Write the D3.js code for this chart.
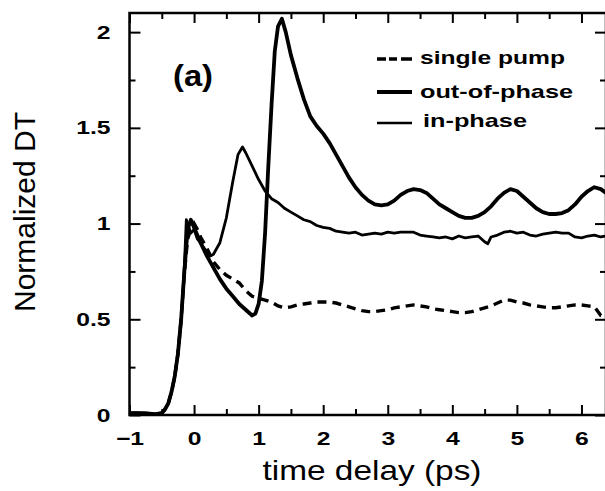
<!DOCTYPE html>
<html>
<head>
<meta charset="utf-8">
<script src="https://cdn.jsdelivr.net/npm/d3@7"></script>
<style>
  body { margin: 0; background: #fff; }
  svg { display: block; }
  text { font-family: "Liberation Sans", Arial, sans-serif; fill: #000; }
</style>
</head>
<body>
<svg id="chart" width="605" height="491"></svg>
<script>
// series as [time delay (ps), normalized DT]
const singlePump = [
  [-1, 0.01], [-0.8, 0.01], [-0.6, 0.005], [-0.5, 0.01], [-0.45, 0.03], [-0.4, 0.06],
  [-0.35, 0.12], [-0.3, 0.2], [-0.25, 0.32], [-0.2, 0.5], [-0.15, 0.74], [-0.1, 0.92],
  [-0.05, 0.97], [0, 1.0], [0.05, 0.97], [0.1, 0.93], [0.2, 0.87], [0.3, 0.8], [0.4, 0.76],
  [0.5, 0.73], [0.6, 0.71], [0.7, 0.69], [0.8, 0.65], [0.9, 0.62], [1.0, 0.61], [1.1, 0.6],
  [1.2, 0.59], [1.3, 0.57], [1.4, 0.56], [1.5, 0.565], [1.6, 0.575], [1.7, 0.58], [1.8, 0.585],
  [1.9, 0.59], [2.0, 0.59], [2.1, 0.59], [2.2, 0.585], [2.3, 0.575], [2.4, 0.565], [2.5, 0.555],
  [2.6, 0.545], [2.7, 0.54], [2.8, 0.54], [2.9, 0.545], [3.0, 0.55], [3.1, 0.56], [3.2, 0.565],
  [3.3, 0.57], [3.4, 0.575], [3.5, 0.57], [3.6, 0.565], [3.7, 0.555], [3.8, 0.55], [3.9, 0.545],
  [4.0, 0.54], [4.1, 0.535], [4.2, 0.535], [4.3, 0.54], [4.4, 0.55], [4.5, 0.56], [4.6, 0.57],
  [4.7, 0.585], [4.8, 0.6], [4.9, 0.6], [5.0, 0.59], [5.1, 0.585], [5.2, 0.575], [5.3, 0.57],
  [5.4, 0.565], [5.5, 0.56], [5.6, 0.56], [5.7, 0.565], [5.8, 0.57], [5.9, 0.575], [6.0, 0.575],
  [6.1, 0.57], [6.2, 0.565], [6.3, 0.52], [6.38, 0.51]
];

const outOfPhase = [
  [-1, 0.01], [-0.8, 0.01], [-0.6, 0.005], [-0.5, 0.01], [-0.45, 0.03], [-0.4, 0.06],
  [-0.35, 0.12], [-0.3, 0.2], [-0.25, 0.32], [-0.2, 0.5], [-0.15, 0.75], [-0.1, 0.97],
  [-0.05, 1.02], [0, 0.98], [0.1, 0.9], [0.2, 0.83], [0.3, 0.77], [0.4, 0.71], [0.5, 0.66],
  [0.6, 0.62], [0.7, 0.58], [0.8, 0.55], [0.9, 0.52], [0.95, 0.53], [1.0, 0.58], [1.05, 0.7],
  [1.1, 0.95], [1.15, 1.3], [1.2, 1.62], [1.25, 1.9], [1.3, 2.03], [1.36, 2.07], [1.42, 2.0],
  [1.5, 1.88], [1.6, 1.76], [1.7, 1.65], [1.8, 1.56], [1.9, 1.51], [2.0, 1.47], [2.1, 1.42],
  [2.2, 1.36], [2.3, 1.3], [2.4, 1.24], [2.5, 1.19], [2.6, 1.15], [2.7, 1.12], [2.8, 1.1],
  [2.9, 1.095], [3.0, 1.1], [3.1, 1.12], [3.2, 1.15], [3.3, 1.17], [3.4, 1.18], [3.5, 1.175],
  [3.6, 1.16], [3.7, 1.13], [3.8, 1.1], [3.9, 1.08], [4.0, 1.06], [4.1, 1.04], [4.2, 1.03],
  [4.3, 1.03], [4.4, 1.04], [4.5, 1.06], [4.6, 1.09], [4.7, 1.13], [4.8, 1.16], [4.9, 1.18],
  [5.0, 1.17], [5.1, 1.14], [5.2, 1.11], [5.3, 1.08], [5.4, 1.06], [5.5, 1.05], [5.6, 1.05],
  [5.7, 1.055], [5.8, 1.07], [5.9, 1.1], [6.0, 1.14], [6.1, 1.17], [6.2, 1.19], [6.3, 1.18],
  [6.38, 1.16]
];

const inPhase = [
  [-1, 0.01], [-0.8, 0.01], [-0.6, 0.005], [-0.5, 0.01], [-0.45, 0.03], [-0.4, 0.06],
  [-0.35, 0.12], [-0.3, 0.2], [-0.25, 0.32], [-0.2, 0.5], [-0.15, 0.78], [-0.12, 1.02],
  [-0.05, 0.95], [0, 0.97], [0.05, 0.92], [0.1, 0.9], [0.2, 0.85], [0.25, 0.83], [0.3, 0.84],
  [0.4, 0.9], [0.5, 1.03], [0.6, 1.22], [0.68, 1.36], [0.75, 1.4], [0.8, 1.37], [0.9, 1.3],
  [1.0, 1.23], [1.1, 1.17], [1.2, 1.13], [1.3, 1.11], [1.4, 1.08], [1.5, 1.06], [1.6, 1.04],
  [1.7, 1.02], [1.8, 1.01], [1.9, 0.99], [2.0, 0.98], [2.1, 0.975], [2.2, 0.96], [2.3, 0.955],
  [2.4, 0.95], [2.5, 0.955], [2.6, 0.94], [2.7, 0.945], [2.8, 0.95], [2.9, 0.945], [3.0, 0.955],
  [3.1, 0.95], [3.2, 0.955], [3.3, 0.955], [3.4, 0.955], [3.5, 0.94], [3.6, 0.935], [3.7, 0.93],
  [3.8, 0.925], [3.9, 0.93], [4.0, 0.92], [4.1, 0.935], [4.2, 0.925], [4.3, 0.93], [4.4, 0.935],
  [4.5, 0.905], [4.55, 0.895], [4.6, 0.93], [4.7, 0.94], [4.8, 0.955], [4.9, 0.96], [5.0, 0.95],
  [5.1, 0.955], [5.2, 0.94], [5.3, 0.935], [5.4, 0.945], [5.5, 0.95], [5.6, 0.955], [5.7, 0.95],
  [5.8, 0.95], [5.9, 0.93], [6.0, 0.925], [6.1, 0.935], [6.2, 0.94], [6.3, 0.93], [6.38, 0.935]
];

const xTicks = [-1, 0, 1, 2, 3, 4, 5, 6];
const xMinor = [-0.5, 0.5, 1.5, 2.5, 3.5, 4.5, 5.5];
const yTicks = [0, 0.5, 1, 1.5, 2];
const yMinor = [0.25, 0.75, 1.25, 1.75];

const legendItems = ["single pump", "out-of-phase", "in-phase"];

const margin = { top: 13, right: -1, bottom: 76, left: 129.5 };
const width = 605, height = 491;

const svg = d3.select("#chart");

const x = d3.scaleLinear()
  .domain([-1, 6.38])
  .range([margin.left, width - margin.right]);

const y = d3.scaleLinear()
  .domain([0, 2.1])
  .range([height - margin.bottom, margin.top]);

svg.append("clipPath")
  .attr("id", "plot-clip")
  .append("rect")
  .attr("x", margin.left)
  .attr("y", margin.top)
  .attr("width", x.range()[1] - margin.left)
  .attr("height", y.range()[0] - margin.top);

// the scanned figure has wide, heavy lettering
const stretch = (sel, k) => sel.each(function () {
  const w = this.getComputedTextLength();
  d3.select(this).attr("textLength", w * k).attr("lengthAdjust", "spacingAndGlyphs");
});

// axes, ticks point inward on all four sides
const tickStyle = g => {
  g.select(".domain").remove();
  g.selectAll(".tick line").attr("stroke", "#000").attr("stroke-width", 2);
  g.selectAll(".tick text")
    .attr("font-size", 19)
    .attr("font-weight", "bold")
    .attr("fill", "#000")
    .call(stretch, 1.3);
};

svg.append("g")
  .attr("transform", `translate(0,${y(0)})`)
  .call(d3.axisBottom(x).tickValues(xTicks).tickSize(-10).tickPadding(17).tickFormat(d3.format("d")))
  .call(tickStyle);
svg.append("g")
  .attr("transform", `translate(0,${y(0)})`)
  .call(d3.axisBottom(x).tickValues(xMinor).tickSize(-6).tickFormat(""))
  .call(tickStyle);
svg.append("g")
  .attr("transform", `translate(0,${margin.top})`)
  .call(d3.axisTop(x).tickValues(xTicks).tickSize(-10).tickFormat(""))
  .call(tickStyle);
svg.append("g")
  .attr("transform", `translate(0,${margin.top})`)
  .call(d3.axisTop(x).tickValues(xMinor).tickSize(-6).tickFormat(""))
  .call(tickStyle);

svg.append("g")
  .attr("transform", `translate(${margin.left},0)`)
  .call(d3.axisLeft(y).tickValues(yTicks).tickSize(-11).tickPadding(19).tickFormat(d3.format("")))
  .call(tickStyle);
svg.append("g")
  .attr("transform", `translate(${margin.left},0)`)
  .call(d3.axisLeft(y).tickValues(yMinor).tickSize(-6).tickFormat(""))
  .call(tickStyle);
svg.append("g")
  .attr("transform", `translate(${x.range()[1]},0)`)
  .call(d3.axisRight(y).tickValues(yTicks).tickSize(-11).tickFormat(""))
  .call(tickStyle);
svg.append("g")
  .attr("transform", `translate(${x.range()[1]},0)`)
  .call(d3.axisRight(y).tickValues(yMinor).tickSize(-6).tickFormat(""))
  .call(tickStyle);

// frame
svg.append("rect")
  .attr("x", margin.left)
  .attr("y", margin.top)
  .attr("width", x.range()[1] - margin.left)
  .attr("height", y(0) - margin.top)
  .attr("fill", "none")
  .attr("stroke", "#000")
  .attr("stroke-width", 2.5);

const line = d3.line()
  .x(d => x(d[0]))
  .y(d => y(d[1]));

const plot = svg.append("g").attr("clip-path", "url(#plot-clip)");

plot.append("path")
  .datum(inPhase)
  .attr("d", line)
  .attr("fill", "none")
  .attr("stroke", "#000")
  .attr("stroke-width", 2.8)
  .attr("stroke-linejoin", "round");

plot.append("path")
  .datum(singlePump)
  .attr("d", line)
  .attr("fill", "none")
  .attr("stroke", "#000")
  .attr("stroke-width", 3.4)
  .attr("stroke-dasharray", "9,6");

plot.append("path")
  .datum(outOfPhase)
  .attr("d", line)
  .attr("fill", "none")
  .attr("stroke", "#000")
  .attr("stroke-width", 3.8)
  .attr("stroke-linejoin", "round");

// legend
const legend = svg.append("g");
const legendStyles = [
  { ly: 59, ty: 64, len: 145, w: 3.4, dash: "9,3,8,4,11" },
  { ly: 92, ty: 98, len: 153, w: 4, dash: null },
  { ly: 123, ty: 127, len: 104, w: 2.6, dash: null }
];
legendItems.forEach((name, i) => {
  const s = legendStyles[i];
  legend.append("line")
    .attr("x1", 377).attr("x2", 412)
    .attr("y1", s.ly).attr("y2", s.ly)
    .attr("stroke", "#000")
    .attr("stroke-width", s.w)
    .attr("stroke-dasharray", s.dash);
  legend.append("text")
    .attr("x", i === 2 ? 423 : 420)
    .attr("y", s.ty)
    .attr("font-size", 19)
    .attr("font-weight", "bold")
    .attr("textLength", s.len)
    .attr("lengthAdjust", "spacingAndGlyphs")
    .text(name);
});

svg.append("text")
  .attr("x", 193)
  .attr("y", 86)
  .attr("text-anchor", "middle")
  .attr("font-size", 29)
  .attr("font-weight", "bold")
  .attr("textLength", 40)
  .attr("lengthAdjust", "spacingAndGlyphs")
  .text("(a)");

svg.append("text")
  .attr("x", 372)
  .attr("y", 480)
  .attr("text-anchor", "middle")
  .attr("font-size", 28)
  .attr("textLength", 219)
  .attr("lengthAdjust", "spacingAndGlyphs")
  .text("time delay (ps)");

svg.append("text")
  .attr("transform", `translate(35,212) rotate(-90)`)
  .attr("text-anchor", "middle")
  .attr("font-size", 29)
  .attr("textLength", 200)
  .attr("lengthAdjust", "spacingAndGlyphs")
  .text("Normalized DT");
</script>
</body>
</html>
